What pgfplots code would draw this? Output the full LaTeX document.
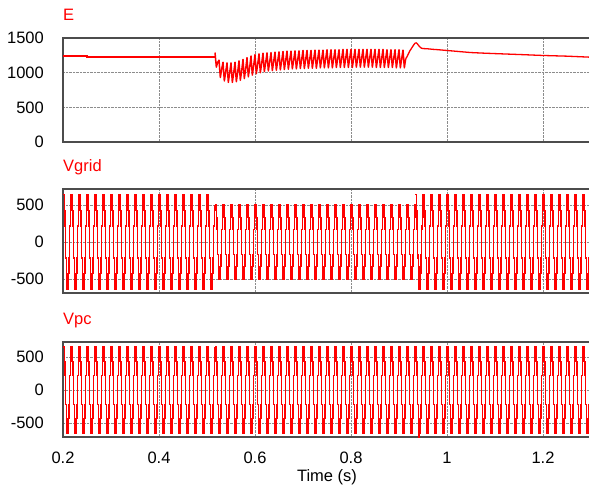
\documentclass[border=0pt]{standalone}
\usepackage{pgfplots}
\pgfplotsset{compat=1.18}
\usepackage{pgfplotstable}
\usepackage{fontspec}
\setmainfont{Liberation Sans}

% E during the disturbance, sampled every 1/360 s from t = 0.51667 s
\pgfplotstableread{
Edc
1290
1080
1150
1180
930
1050
1150
880
1010
1140
860
1000
1140
860
995
1150
870
1005
1170
890
1025
1190
915
1050
1215
940
1075
1240
965
1100
1260
985
1120
1270
1000
1135
1280
1015
1145
1285
1025
1155
1290
1030
1160
1295
1035
1165
1300
1040
1170
1305
1045
1175
1310
1050
1180
1310
1055
1180
1315
1055
1185
1315
1060
1190
1320
1060
1190
1320
1065
1190
1320
1065
1195
1325
1065
1195
1325
1070
1195
1325
1070
1200
1330
1070
1200
1330
1070
1200
1330
1075
1200
1330
1075
1205
1335
1075
1205
1335
1075
1205
1335
1075
1205
1335
1080
1205
1335
1080
1210
1335
1080
1210
1335
1080
1210
1335
1080
1210
1335
1075
1205
1335
1075
1205
1335
1075
1205
1330
1075
1205
1330
1075
1200
1330
1070
1200
1330
1070
1200
1325
1070
1200
}\Etab

% Vgrid and Vpc, 0.2 s to 0.51667 s, sampled every 1/720 s (19 cycles)
\pgfplotstableread{
Vg Vp
640 650
640 650
430 435
215 220
-215 -220
-430 -435
-640 -650
-640 -650
-430 -435
-215 -220
215 220
430 435
640 650
640 650
430 435
215 220
-215 -220
-430 -435
-640 -650
-640 -650
-430 -435
-215 -220
215 220
430 435
640 650
640 650
430 435
215 220
-215 -220
-430 -435
-640 -650
-640 -650
-430 -435
-215 -220
215 220
430 435
640 650
640 650
430 435
215 220
-215 -220
-430 -435
-640 -650
-640 -650
-430 -435
-215 -220
215 220
430 435
640 650
640 650
430 435
215 220
-215 -220
-430 -435
-640 -650
-640 -650
-430 -435
-215 -220
215 220
430 435
640 650
640 650
430 435
215 220
-215 -220
-430 -435
-640 -650
-640 -650
-430 -435
-215 -220
215 220
430 435
640 650
640 650
430 435
215 220
-215 -220
-430 -435
-640 -650
-640 -650
-430 -435
-215 -220
215 220
430 435
640 650
640 650
430 435
215 220
-215 -220
-430 -435
-640 -650
-640 -650
-430 -435
-215 -220
215 220
430 435
640 650
640 650
430 435
215 220
-215 -220
-430 -435
-640 -650
-640 -650
-430 -435
-215 -220
215 220
430 435
640 650
640 650
430 435
215 220
-215 -220
-430 -435
-640 -650
-640 -650
-430 -435
-215 -220
215 220
430 435
640 650
640 650
430 435
215 220
-215 -220
-430 -435
-640 -650
-640 -650
-430 -435
-215 -220
215 220
430 435
640 650
640 650
430 435
215 220
-215 -220
-430 -435
-640 -650
-640 -650
-430 -435
-215 -220
215 220
430 435
640 650
640 650
430 435
215 220
-215 -220
-430 -435
-640 -650
-640 -650
-430 -435
-215 -220
215 220
430 435
640 650
640 650
430 435
215 220
-215 -220
-430 -435
-640 -650
-640 -650
-430 -435
-215 -220
215 220
430 435
640 650
640 650
430 435
215 220
-215 -220
-430 -435
-640 -650
-640 -650
-430 -435
-215 -220
215 220
430 435
640 650
640 650
430 435
215 220
-215 -220
-430 -435
-640 -650
-640 -650
-430 -435
-215 -220
215 220
430 435
640 650
640 650
430 435
215 220
-215 -220
-430 -435
-640 -650
-640 -650
-430 -435
-215 -220
215 220
430 435
640 650
640 650
430 435
215 220
-215 -220
-430 -435
-640 -650
-640 -650
-430 -435
-215 -220
215 220
430 435
640 650
640 650
430 435
215 220
-215 -220
-430 -435
-640 -650
-640 -650
-430 -435
-215 -220
215 220
430 435
500 650
}\VA

% Vgrid and Vpc, 0.51667 s to 0.93333 s (25 cycles)
\pgfplotstableread{
Vg Vp
500 650
500 650
335 435
170 220
-170 -220
-335 -435
-500 -650
-500 -650
-335 -435
-170 -220
170 220
335 435
500 650
500 650
335 435
170 220
-170 -220
-335 -435
-500 -650
-500 -650
-335 -435
-170 -220
170 220
335 435
500 650
500 650
335 435
170 220
-170 -220
-335 -435
-500 -650
-500 -650
-335 -435
-170 -220
170 220
335 435
500 650
500 650
335 435
170 220
-170 -220
-335 -435
-500 -650
-500 -650
-335 -435
-170 -220
170 220
335 435
500 650
500 650
335 435
170 220
-170 -220
-335 -435
-500 -650
-500 -650
-335 -435
-170 -220
170 220
335 435
500 650
500 650
335 435
170 220
-170 -220
-335 -435
-500 -650
-500 -650
-335 -435
-170 -220
170 220
335 435
500 650
500 650
335 435
170 220
-170 -220
-335 -435
-500 -650
-500 -650
-335 -435
-170 -220
170 220
335 435
500 650
500 650
335 435
170 220
-170 -220
-335 -435
-500 -650
-500 -650
-335 -435
-170 -220
170 220
335 435
500 650
500 650
335 435
170 220
-170 -220
-335 -435
-500 -650
-500 -650
-335 -435
-170 -220
170 220
335 435
500 650
500 650
335 435
170 220
-170 -220
-335 -435
-500 -650
-500 -650
-335 -435
-170 -220
170 220
335 435
500 650
500 650
335 435
170 220
-170 -220
-335 -435
-500 -650
-500 -650
-335 -435
-170 -220
170 220
335 435
500 650
500 650
335 435
170 220
-170 -220
-335 -435
-500 -650
-500 -650
-335 -435
-170 -220
170 220
335 435
500 650
500 650
335 435
170 220
-170 -220
-335 -435
-500 -650
-500 -650
-335 -435
-170 -220
170 220
335 435
500 650
500 650
335 435
170 220
-170 -220
-335 -435
-500 -650
-500 -650
-335 -435
-170 -220
170 220
335 435
500 650
500 650
335 435
170 220
-170 -220
-335 -435
-500 -650
-500 -650
-335 -435
-170 -220
170 220
335 435
500 650
500 650
335 435
170 220
-170 -220
-335 -435
-500 -650
-500 -650
-335 -435
-170 -220
170 220
335 435
500 650
500 650
335 435
170 220
-170 -220
-335 -435
-500 -650
-500 -650
-335 -435
-170 -220
170 220
335 435
500 650
500 650
335 435
170 220
-170 -220
-335 -435
-500 -650
-500 -650
-335 -435
-170 -220
170 220
335 435
500 650
500 650
335 435
170 220
-170 -220
-335 -435
-500 -650
-500 -650
-335 -435
-170 -220
170 220
335 435
500 650
500 650
335 435
170 220
-170 -220
-335 -435
-500 -650
-500 -650
-335 -435
-170 -220
170 220
335 435
500 650
500 650
335 435
170 220
-170 -220
-335 -435
-500 -650
-500 -650
-335 -435
-170 -220
170 220
335 435
500 650
500 650
335 435
170 220
-170 -220
-335 -435
-500 -650
-500 -650
-335 -435
-170 -220
170 220
335 435
500 650
500 650
335 435
170 220
-170 -220
-335 -435
-500 -650
-500 -650
-335 -435
-170 -220
170 220
335 435
500 650
500 650
335 435
170 220
-170 -220
-335 -435
-500 -650
-500 -650
-335 -435
-170 -220
170 220
335 435
500 650
500 650
335 435
170 220
-170 -220
-335 -435
-500 -650
-500 -650
-335 -435
-170 -220
170 220
335 435
500 650
500 650
335 435
170 220
-170 -220
-335 -520
-500 -720
-500 -650
-335 -435
-170 -220
170 220
335 435
640 650
}\VB

% Vgrid and Vpc, 0.93333 s to 1.3 s (22 cycles)
\pgfplotstableread{
Vg Vp
640 650
640 650
430 435
215 220
-215 -220
-430 -435
-640 -650
-640 -650
-430 -435
-215 -220
215 220
430 435
640 650
640 650
430 435
215 220
-215 -220
-430 -435
-640 -650
-640 -650
-430 -435
-215 -220
215 220
430 435
640 650
640 650
430 435
215 220
-215 -220
-430 -435
-640 -650
-640 -650
-430 -435
-215 -220
215 220
430 435
640 650
640 650
430 435
215 220
-215 -220
-430 -435
-640 -650
-640 -650
-430 -435
-215 -220
215 220
430 435
640 650
640 650
430 435
215 220
-215 -220
-430 -435
-640 -650
-640 -650
-430 -435
-215 -220
215 220
430 435
640 650
640 650
430 435
215 220
-215 -220
-430 -435
-640 -650
-640 -650
-430 -435
-215 -220
215 220
430 435
640 650
640 650
430 435
215 220
-215 -220
-430 -435
-640 -650
-640 -650
-430 -435
-215 -220
215 220
430 435
640 650
640 650
430 435
215 220
-215 -220
-430 -435
-640 -650
-640 -650
-430 -435
-215 -220
215 220
430 435
640 650
640 650
430 435
215 220
-215 -220
-430 -435
-640 -650
-640 -650
-430 -435
-215 -220
215 220
430 435
640 650
640 650
430 435
215 220
-215 -220
-430 -435
-640 -650
-640 -650
-430 -435
-215 -220
215 220
430 435
640 650
640 650
430 435
215 220
-215 -220
-430 -435
-640 -650
-640 -650
-430 -435
-215 -220
215 220
430 435
640 650
640 650
430 435
215 220
-215 -220
-430 -435
-640 -650
-640 -650
-430 -435
-215 -220
215 220
430 435
640 650
640 650
430 435
215 220
-215 -220
-430 -435
-640 -650
-640 -650
-430 -435
-215 -220
215 220
430 435
640 650
640 650
430 435
215 220
-215 -220
-430 -435
-640 -650
-640 -650
-430 -435
-215 -220
215 220
430 435
640 650
640 650
430 435
215 220
-215 -220
-430 -435
-640 -650
-640 -650
-430 -435
-215 -220
215 220
430 435
640 650
640 650
430 435
215 220
-215 -220
-430 -435
-640 -650
-640 -650
-430 -435
-215 -220
215 220
430 435
640 650
640 650
430 435
215 220
-215 -220
-430 -435
-640 -650
-640 -650
-430 -435
-215 -220
215 220
430 435
640 650
640 650
430 435
215 220
-215 -220
-430 -435
-640 -650
-640 -650
-430 -435
-215 -220
215 220
430 435
640 650
640 650
430 435
215 220
-215 -220
-430 -435
-640 -650
-640 -650
-430 -435
-215 -220
215 220
430 435
640 650
640 650
430 435
215 220
-215 -220
-430 -435
-640 -650
-640 -650
-430 -435
-215 -220
215 220
430 435
640 650
640 650
430 435
215 220
-215 -220
-430 -435
-640 -650
-640 -650
-430 -435
-215 -220
215 220
430 435
640 650
640 650
430 435
215 220
-215 -220
-430 -435
-640 -650
-640 -650
-430 -435
-215 -220
215 220
430 435
640 650
640 650
430 435
215 220
-215 -220
-430 -435
-640 -650
-640 -650
-430 -435
-215 -220
215 220
430 435
640 650
640 650
430 435
}\VC

\pgfplotsset{
  panel/.style={
    scale only axis, width=528pt,
    xmin=0.2, xmax=1.3,
    xtick={0.2,0.4,0.6,0.8,1,1.2},
    xticklabels={},
    major tick length=0pt,
    grid=major,
    grid style={densely dotted, black!45, line width=0.7pt},
    axis line style={black!70, line width=1.2pt},
    tick label style={font=\fontsize{16.5}{19}\selectfont, inner sep=0pt},
    yticklabel style={anchor=base east, xshift=-19pt, yshift=-5.8pt},
    xticklabel style={anchor=base, yshift=-26pt},
    title style={at={(0,1)}, anchor=base west, yshift=11.5pt, inner sep=0pt,
      text=red, font=\fontsize{16.5}{19}\selectfont},
    clip=true,
  },
  vwave/.style={red, line width=1.3pt, const plot},
}

\begin{document}
\begin{tikzpicture}
\useasboundingbox (0pt,0pt) rectangle (589pt,-485pt);

\begin{axis}[panel, at={(63pt,-38pt)}, anchor=north west, height=104pt,
  ymin=0, ymax=1500, ytick={0,500,1000,1500}, yticklabels={0,500,1000,1500},
  title={E}]
\addplot[red, line width=1.2pt] coordinates {
  (0.2,1240) (0.25,1240) (0.25,1225) (0.51667,1225)};
\addplot[red, line width=1.5pt, line join=round] table[x expr=0.51667+\coordindex/360, y index=0] {\Etab};
\addplot[red, line width=1.3pt, line join=round] coordinates {
  (0.91389,1200) (0.91667,1230) (0.91944,1270) (0.92222,1310) (0.925,1340)
  (0.92778,1370) (0.93056,1400) (0.93333,1425) (0.93611,1430) (0.93889,1410)
  (0.94167,1385) (0.94444,1365) (0.94722,1352) (0.95,1348) (0.96,1344)
  (0.97,1337) (0.98,1332) (1.0,1320) (1.033,1300) (1.05,1290) (1.075,1282)
  (1.1,1275) (1.15,1262) (1.2,1248) (1.25,1238) (1.3,1223)};
\end{axis}

\begin{axis}[panel, at={(63pt,-189pt)}, anchor=north west, height=104pt,
  ymin=-690, ymax=716, ytick={-500,0,500}, yticklabels={-500,0,500},
  title={Vgrid}]
\addplot[vwave] table[x expr=0.2+\coordindex/720, y=Vg] {\VA};
\addplot[vwave] table[x expr=0.51667+\coordindex/720, y=Vg] {\VB};
\addplot[vwave] table[x expr=0.93333+\coordindex/720, y=Vg] {\VC};
\end{axis}

\begin{axis}[panel, at={(63pt,-342pt)}, anchor=north west, height=95pt,
  ymin=-712, ymax=727, ytick={-500,0,500}, yticklabels={-500,0,500},
  xticklabels={0.2,0.4,0.6,0.8,1,1.2},
  xlabel={Time (s)},
  xlabel style={at={(0.5,0)}, anchor=base, yshift=-44pt, inner sep=0pt,
    font=\fontsize{16.5}{19}\selectfont},
  title={Vpc}]
\addplot[vwave] table[x expr=0.2+\coordindex/720, y=Vp] {\VA};
\addplot[vwave] table[x expr=0.51667+\coordindex/720, y=Vp] {\VB};
\addplot[vwave] table[x expr=0.93333+\coordindex/720, y=Vp] {\VC};
\end{axis}
\end{tikzpicture}
\end{document}
